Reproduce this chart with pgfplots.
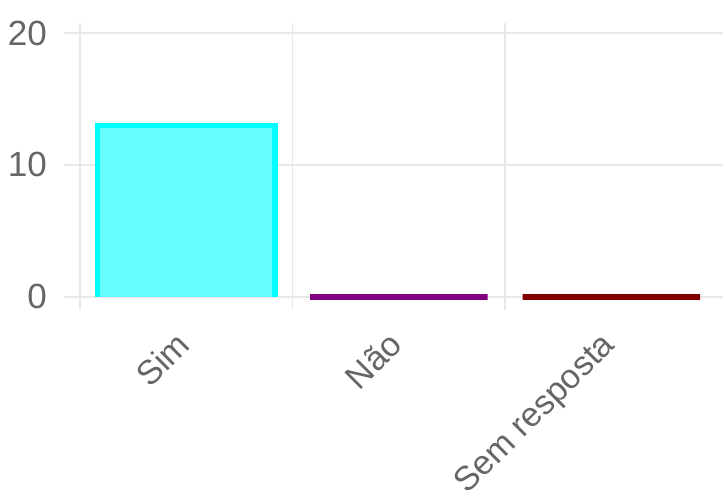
\documentclass[border=0pt]{standalone}
\usepackage{fontspec}
\setmainfont{Liberation Sans}
\usepackage{pgfplots}
\pgfplotsset{compat=1.18}
\definecolor{tickgray}{RGB}{102,102,102}
\definecolor{gridgray}{RGB}{233,233,233}
\definecolor{simfill}{RGB}{104,253,253}
\definecolor{simedge}{RGB}{0,255,255}
\definecolor{naoc}{RGB}{128,0,128}
\definecolor{semc}{RGB}{128,0,0}
\begin{document}
\begin{tikzpicture}[x=1pt,y=1pt]
\useasboundingbox (0,0) rectangle (723,497);
\begin{axis}[
  at={(80pt,187pt)}, anchor=south west,
  scale only axis, width=642pt, height=287pt,
  xmin=-0.5, xmax=2.52, ymin=-1, ymax=20.76,
  axis line style={draw=none},
  /pgf/number format/assume math mode=true,
  xtick={0,1,2}, xticklabels={Sim,Não,Sem resposta},
  minor xtick={-0.5,0.5,1.5},
  xminorgrids, minor x grid style={gridgray, line width=1.5pt},
  ytick={0,10,20}, ymajorgrids, major y grid style={gridgray, line width=1.5pt},
  tick align=outside, major tick length=16pt, minor tick length=0pt,
  major x tick style={draw=none},
  y tick style={gridgray, line width=1.5pt},
  tick label style={text=tickgray},
  xticklabel style={font=\fontsize{34}{38}\selectfont, rotate=45, anchor=north east, inner sep=0pt, xshift=-11pt, yshift=6pt},
  yticklabel style={font=\fontsize{35}{40}\selectfont, anchor=east, inner sep=0pt, xshift=-17pt},
  clip=false,
]
% Sim: fill, then border without the bottom edge (value 13, bar half-width 0.4175)
\addplot[ybar, bar shift=0pt, bar width=177.5pt, fill=simfill, draw=none] coordinates {(0,13)};
\addplot[simedge, line width=5.5pt, miter limit=10, line join=miter, mark=none] coordinates {(-0.4175,0) (-0.4175,13) (0.4175,13) (0.4175,0)};
\addplot[ybar, bar shift=0pt, bar width=177.5pt, fill=naoc!60!white, draw=naoc, line width=5.5pt] coordinates {(1,0)};
\addplot[ybar, bar shift=0pt, bar width=177.5pt, fill=semc!60!white, draw=semc, line width=5.5pt] coordinates {(2,0)};
\end{axis}
\end{tikzpicture}
\end{document}
